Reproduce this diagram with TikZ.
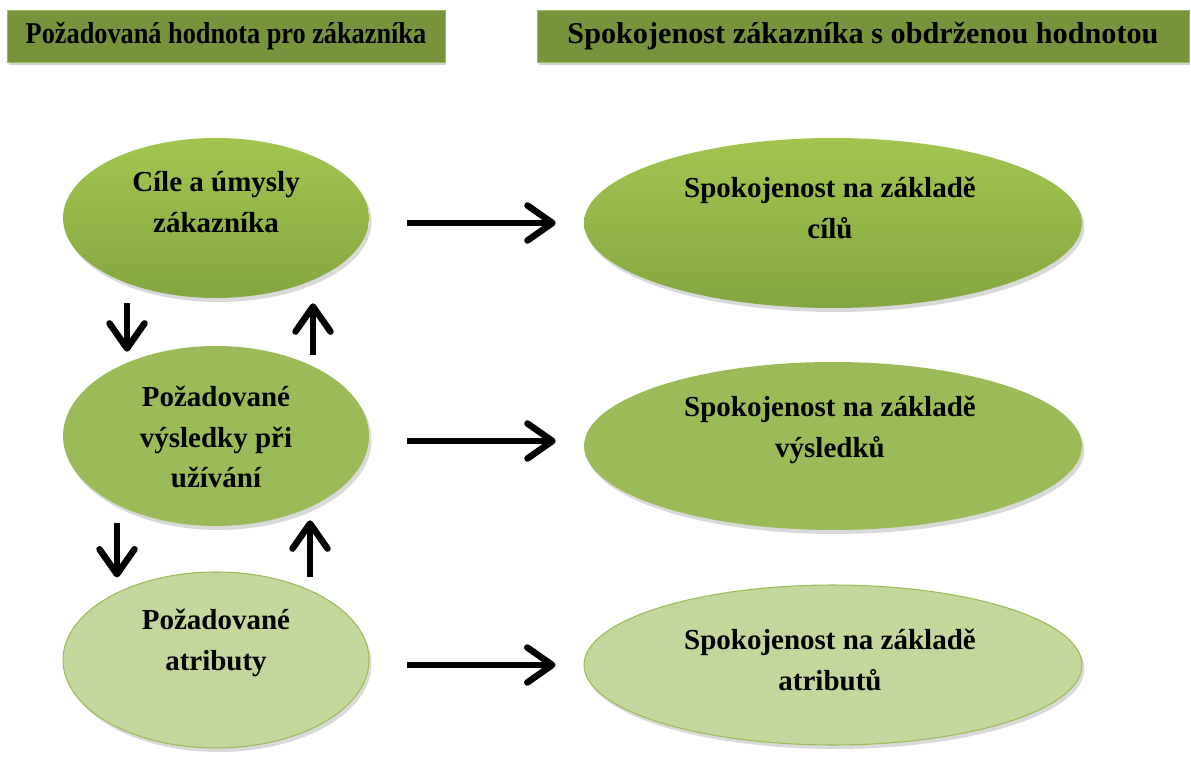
\documentclass[tikz,border=0pt]{standalone}
\usepackage{fontspec}
\setmainfont{Liberation Serif}
\newfontfamily\narrowfont{Liberation Serif}[FakeStretch=0.87]
\usepackage{xcolor}
\usepackage{tikz}
\usetikzlibrary{arrows.meta,shapes.geometric,shadows,calc}

\definecolor{hdrgreen}{HTML}{77933C}
\definecolor{hdredge}{HTML}{9BBB59}
\definecolor{grtop}{HTML}{A2C550}
\definecolor{grbot}{HTML}{84A640}
\definecolor{grmid}{HTML}{9BBB59}
\definecolor{grlight}{HTML}{C3D69B}

\begin{document}
\begin{tikzpicture}[x=0.02cm,y=-0.02cm,inner sep=0pt,
  head/.style={rectangle,fill=hdrgreen,draw=hdredge,line width=0.5pt,minimum height=1.04cm,
    font=\bfseries\fontsize{17.2}{20}\selectfont,
    drop shadow={opacity=0.35,shadow xshift=0.03cm,shadow yshift=-0.07cm}},
  bubble/.style={ellipse,draw=none,
    drop shadow={opacity=0.3,shadow xshift=0.05cm,shadow yshift=-0.08cm}},
  bubblelight/.style={bubble,fill=grlight,draw=grmid,line width=0.6pt},
  txt/.style={align=center,font=\bfseries\fontsize{16.5}{23}\selectfont},
  arr/.style={line width=0.13cm,-{Straight Barb[round,length=0.5cm,width=0.7cm]}}]
\useasboundingbox (0,0) rectangle (1191,763);

\node[head,minimum width=8.76cm] (H1) at (226,36) {\narrowfont Požadovaná hodnota pro zákazníka};
\node[head,minimum width=13.04cm] (H2) at (863,36) {Spokojenost zákazníka s obdrženou hodnotou};

\node[bubble,top color=grtop,bottom color=grbot,minimum width=6.12cm,minimum height=3.2cm] (A1) at (216,218) {};
\node[bubble,fill=grmid,minimum width=6.12cm,minimum height=3.6cm] (A2) at (216,436) {};
\node[bubblelight,minimum width=6.12cm,minimum height=3.52cm] (A3) at (216,660) {};
\node[bubble,top color=grtop,bottom color=grbot,minimum width=9.96cm,minimum height=3.4cm] (B1) at (833,223) {};
\node[bubble,fill=grmid,minimum width=9.96cm,minimum height=3.36cm] (B2) at (833,446) {};
\node[bubblelight,minimum width=9.96cm,minimum height=3.2cm] (B3) at (833,665) {};

\node[txt] (A1t) at (216,202) {Cíle a úmysly\\zákazníka};
\node[txt] (A2t) at (216,437) {Požadované\\výsledky při\\užívání};
\node[txt] (A3t) at (216,643) {Požadované\\atributy};
\node[txt] (B1t) at (830,208) {Spokojenost na základě\\cílů};
\node[txt] (B2t) at (830,430) {Spokojenost na základě\\výsledků};
\node[txt] (B3t) at (830,660) {Spokojenost na základě\\atributů};

\path ($(A1.east |- B1)+(38,0)$) edge[arr] ($(B1.west)+(-28,0)$);
\path ($(A2.east |- B2)+(38,-5)$) edge[arr] ($(B2.west)+(-28,-5)$);
\path ($(A3.east |- B3)+(38,0)$) edge[arr] ($(B3.west)+(-28,0)$);

\path ($(A1.south)+(-89,5)$) edge[arr] ($(A2.north)+(-89,6)$);
\path ($(A2.north)+(97,9)$) edge[arr] ($(A1.south)+(97,5)$);
\path ($(A2.south)+(-99,-3)$) edge[arr] ($(A3.north)+(-99,6)$);
\path ($(A3.north)+(94,6)$) edge[arr] ($(A2.south)+(94,-6)$);

\end{tikzpicture}
\end{document}
